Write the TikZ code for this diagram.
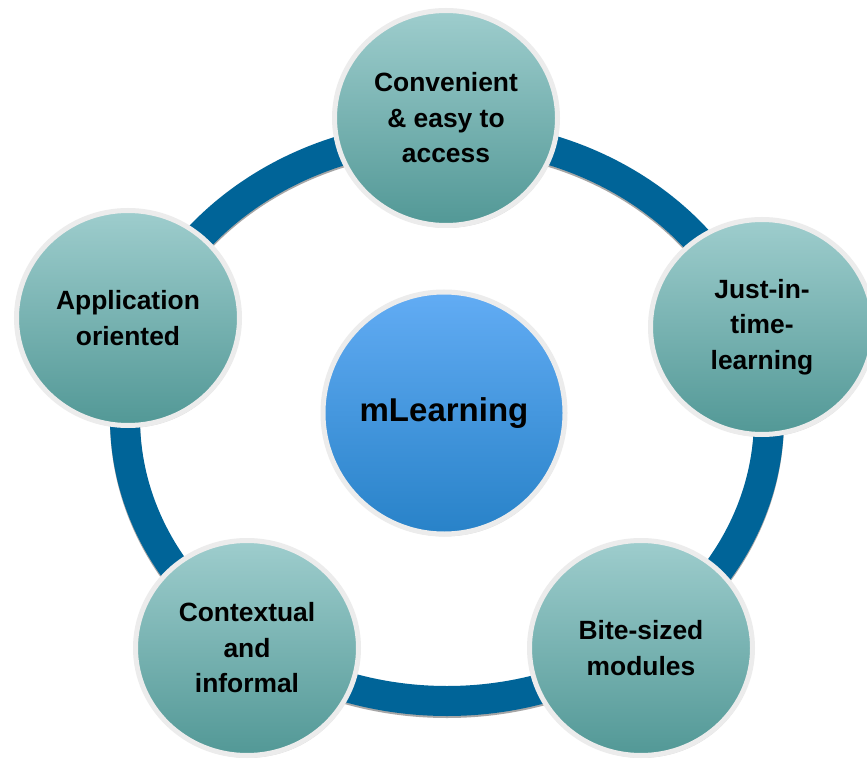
\documentclass[tikz,border=0pt]{standalone}
\usepackage{fontspec}
\setmainfont{Liberation Sans}
\usetikzlibrary{shapes.geometric,shadows}
\definecolor{ringblue}{RGB}{0,100,152}
\definecolor{tealtop}{RGB}{158,205,205}
\definecolor{tealbot}{RGB}{82,152,150}
\definecolor{bluetop}{RGB}{98,172,244}
\definecolor{bluebot}{RGB}{40,130,200}
\definecolor{rimgray}{RGB}{236,236,236}
\tikzset{
  bubble/.style={ellipse, minimum width=111.5pt, minimum height=107.5pt, inner sep=0pt,
    draw=rimgray, line width=2.5pt, top color=tealtop, bottom color=tealbot, align=center,
    font=\bfseries\fontsize{13.2}{17.75}\selectfont,
    drop shadow={shadow xshift=0.5pt, shadow yshift=-1.2pt, opacity=0.3}},
  hubnode/.style={circle, minimum size=121pt, inner sep=0pt, draw=rimgray, line width=2.5pt,
    top color=bluetop, bottom color=bluebot, font=\bfseries\fontsize{16.5}{20}\selectfont,
    drop shadow={shadow xshift=0.5pt, shadow yshift=-1.2pt, opacity=0.3}},
  ring/.style={draw=ringblue, line width=15pt},
  ringshade/.style={draw=gray!70, line width=15pt, transform canvas={yshift=-1pt}}
}
\begin{document}
\begin{tikzpicture}[x=0.5pt,y=-0.5pt]
\useasboundingbox[fill=white] (0,0) rectangle (867,759);
\clip (0,0) rectangle (867,759);
\node[hubnode] (mlearn) at (444,413) {mLearning};
\coordinate (rim) at (447,418);
\draw[ringshade] (rim) ellipse [x radius=161pt, y radius=141.5pt];
\draw[ring] (rim) ellipse [x radius=161pt, y radius=141.5pt];
\node[bubble] (conv) at (446,118) {Convenient\\\& easy to\\access};
\node[bubble] (jit) at (762,327) {Just-in-\\time-\\learning};
\node[bubble] (bite) at (641,648) {Bite-sized\\modules};
\node[bubble] (ctx) at (247,648) {Contextual\\and\\informal};
\node[bubble] (app) at (128,318) {Application\\oriented};
\end{tikzpicture}
\end{document}
